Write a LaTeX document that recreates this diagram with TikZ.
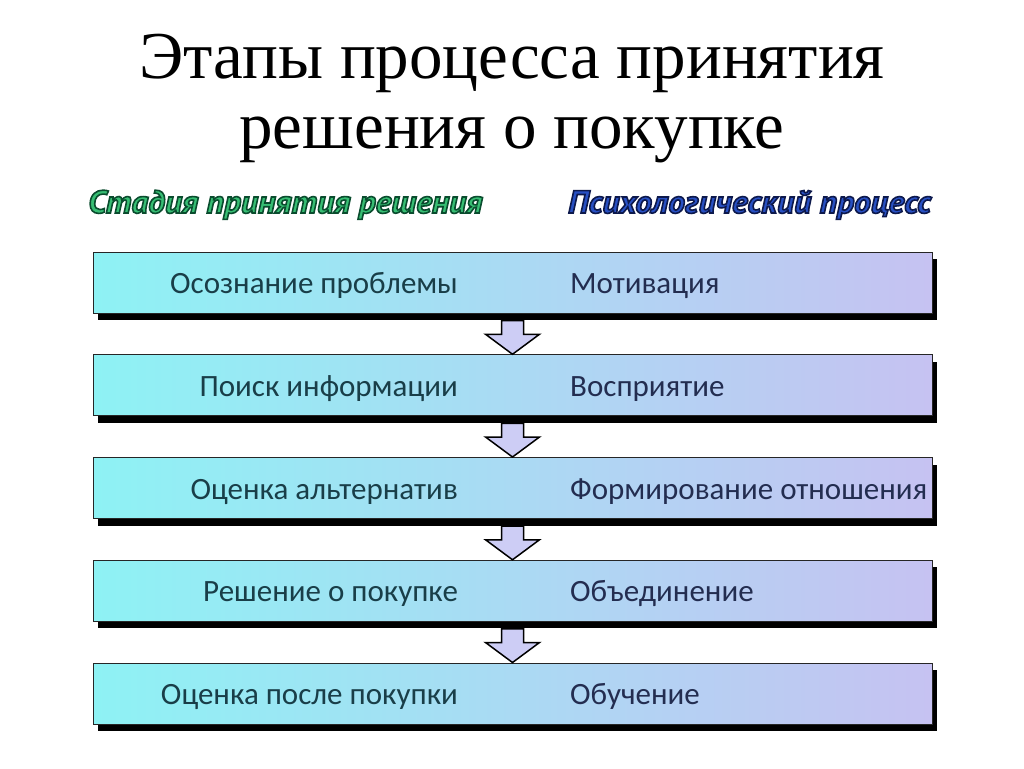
\documentclass[tikz,border=0pt]{standalone}
\usepackage{fontspec}
\setmainfont{Liberation Serif}
\newfontfamily\barfont{Carlito}
\newfontfamily\headfont{PT Sans}[FakeStretch=1.045]
\usetikzlibrary{positioning, shadows, calc}
\definecolor{barleft}{RGB}{142,242,244}
\definecolor{barright}{RGB}{198,194,242}
\definecolor{stagecol}{RGB}{25,62,72}
\definecolor{psycol}{RGB}{35,45,80}
\definecolor{headgreen}{RGB}{55,190,115}
\definecolor{headblue}{RGB}{40,80,195}
\definecolor{flowfill}{RGB}{205,205,245}
\newcommand{\outlinetext}[2]{\special{pdf:literal direct 2 Tr 1.6 w #1 RG}#2\special{pdf:literal direct 0 Tr}}
\tikzset {
    x=1pt, y=-1pt,
    node distance=40.75pt,
    stage/.style={draw=black!85, line width=1pt, minimum width=839pt, minimum height=61pt,
        inner sep=0pt, left color=barleft, right color=barright,
        drop shadow={opacity=1, fill=black, shadow xshift=5pt, shadow yshift=-7pt}},
    stagetext/.style={font=\barfont\fontsize{31}{31}\selectfont, text=stagecol,
        anchor=base east, xshift=-54.5pt, yshift=-11pt, inner sep=0pt},
    psytext/.style={font=\barfont\fontsize{31}{31}\selectfont, text=psycol,
        anchor=base west, xshift=57.5pt, yshift=-11pt, inner sep=0pt},
    headtext/.style={font=\headfont\bfseries\itshape\fontsize{32}{32}\selectfont,
        anchor=base west, inner sep=0pt},
    flow/.style={draw=black, line width=1.5pt, fill=flowfill, line join=miter}
}
\begin{document}
\begin{tikzpicture}
    \useasboundingbox (0,0) rectangle (1024,768);
    \node[align=center, anchor=base, font=\fontsize{67}{70}\selectfont] (title) at (512,148)
        {Этапы процесса принятия\\решения о покупке};

    \node[stage] (b1) at (512.5,282.5) {};
    \node[stage, below=of b1] (b2) {};
    \node[stage, below=of b2] (b3) {};
    \node[stage, below=of b3] (b4) {};
    \node[stage, below=of b4] (b5) {};

    \node[stagetext] (s1) at (b1) {Осознание проблемы};
    \node[stagetext] (s2) at (b2) {Поиск информации};
    \node[stagetext] (s3) at (b3) {Оценка альтернатив};
    \node[stagetext] (s4) at (b4) {Решение о покупке};
    \node[stagetext] (s5) at (b5) {Оценка после покупки};

    \node[psytext] (p1) at (b1) {Мотивация};
    \node[psytext] (p2) at (b2) {Восприятие};
    \node[psytext] (p3) at (b3) {Формирование отношения};
    \node[psytext] (p4) at (b4) {Объединение};
    \node[psytext] (p5) at (b5) {Обучение};

    \foreach \a/\b in {b1/b2, b2/b3, b3/b4, b4/b5}
        \draw[flow] ($(\a.south)+(-11,7)$) -- ($(\b.north)+(-11,-20)$) -- ($(\b.north)+(-27,-20)$)
            -- (\b.north) -- ($(\b.north)+(27,-20)$) -- ($(\b.north)+(11,-20)$)
            -- ($(\a.south)+(11,7)$) -- cycle;

    \node[headtext, text=headgreen] (hstage) at (88,213)
        {\outlinetext{0.04 0.30 0.18}{Стадия принятия решения}};
    \node[headtext, text=headblue] (hpsy) at (568,213)
        {\outlinetext{0.05 0.10 0.30}{Психологический процесс}};
\end{tikzpicture}
\end{document}
